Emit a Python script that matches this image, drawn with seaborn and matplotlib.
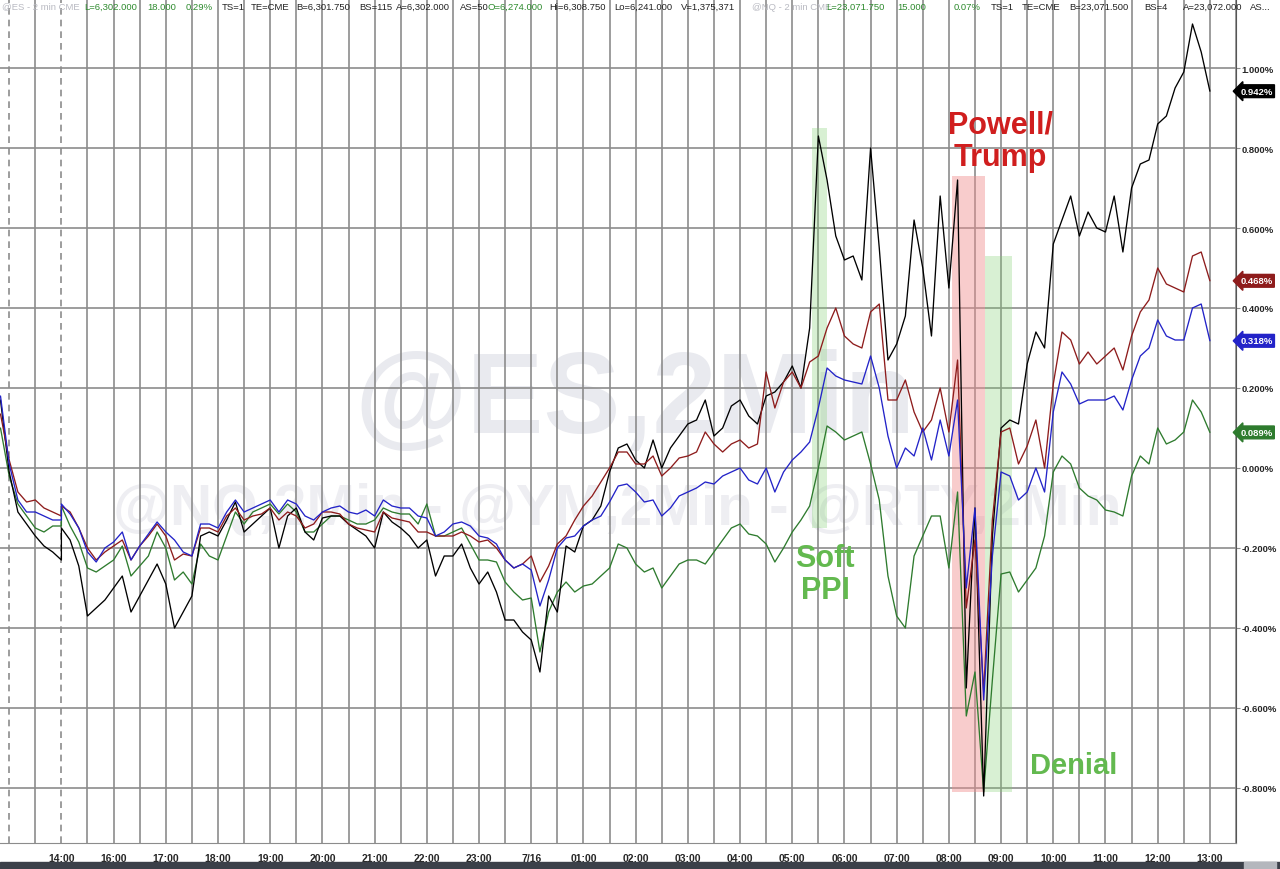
import numpy as np
import pandas as pd
import matplotlib
matplotlib.use("Agg")
import matplotlib.pyplot as plt
import seaborn as sns

# ---- data: % change, 10-minute samples ----
# previous session tail (12:50 .. 14:00), then new session 15:00 (7/15) .. 13:00 (7/16)
pre_times = pd.date_range("2025-07-15 12:50", "2025-07-15 14:00", freq="10min")
post_times = pd.date_range("2025-07-15 15:00", "2025-07-16 13:00", freq="10min")
close = pd.Timestamp("2025-07-15 14:00")
reopen = pd.Timestamp("2025-07-15 15:00")

nq = [0.17, -0.01, -0.11, -0.14, -0.17, -0.195, -0.21, -0.23,
      -0.15, -0.18, -0.245, -0.37, -0.35, -0.33,       # 15
      -0.30, -0.27, -0.36, -0.32, -0.28, -0.24,        # 16
      -0.29, -0.40, -0.36, -0.32, -0.17, -0.16,        # 17
      -0.17, -0.13, -0.085, -0.16, -0.14, -0.12,       # 18
      -0.10, -0.20, -0.12, -0.10, -0.16, -0.18,        # 19
      -0.125, -0.12, -0.12, -0.14, -0.155, -0.17,      # 20
      -0.20, -0.11, -0.135, -0.15, -0.17, -0.20,       # 21
      -0.18, -0.27, -0.22, -0.22, -0.19, -0.25,        # 22
      -0.29, -0.26, -0.31, -0.38, -0.38, -0.41,        # 23
      -0.43, -0.51, -0.32, -0.36, -0.195, -0.21,       # 00
      -0.145, -0.13, -0.095, -0.01, 0.05, 0.06,        # 01
      0.02, 0.0, 0.07, 0.0, 0.05, 0.08,                # 02
      0.11, 0.12, 0.17, 0.08, 0.10, 0.155,             # 03
      0.17, 0.13, 0.11, 0.18, 0.19, 0.215,             # 04
      0.255, 0.20, 0.35, 0.83, 0.72, 0.58,             # 05
      0.52, 0.53, 0.47, 0.80, 0.55, 0.27,              # 06
      0.31, 0.38, 0.62, 0.50, 0.33, 0.68,              # 07
      0.45, 0.72, -0.55, -0.10, -0.82, -0.17,          # 08
      0.10, 0.12, 0.11, 0.26, 0.34, 0.30,              # 09
      0.56, 0.62, 0.68, 0.58, 0.64, 0.60,              # 10
      0.59, 0.68, 0.54, 0.70, 0.76, 0.77,              # 11
      0.86, 0.88, 0.95, 0.99, 1.11, 1.04,              # 12
      0.942]

es = [0.135, 0.02, -0.06, -0.085, -0.08, -0.10, -0.11, -0.12,
      -0.095, -0.11, -0.15, -0.20, -0.23, -0.21,
      -0.195, -0.18, -0.23, -0.195, -0.17, -0.14,
      -0.17, -0.23, -0.215, -0.22, -0.15, -0.15,
      -0.16, -0.12, -0.10, -0.13, -0.12, -0.115,
      -0.10, -0.13, -0.11, -0.12, -0.15, -0.14,
      -0.11, -0.11, -0.115, -0.14, -0.15, -0.155,
      -0.16, -0.11, -0.125, -0.13, -0.135, -0.16,
      -0.16, -0.17, -0.17, -0.17, -0.16, -0.17,
      -0.185, -0.18, -0.20, -0.23, -0.25, -0.24,
      -0.22, -0.285, -0.245, -0.19, -0.17, -0.13,
      -0.095, -0.07, -0.035, 0.0, 0.04, 0.04,
      0.01, 0.01, 0.03, -0.02, 0.0, 0.025,
      0.03, 0.04, 0.09, 0.06, 0.04, 0.06,
      0.07, 0.05, 0.06, 0.24, 0.15, 0.215,
      0.24, 0.20, 0.265, 0.28, 0.35, 0.40,
      0.33, 0.31, 0.30, 0.39, 0.41, 0.17,
      0.17, 0.22, 0.14, 0.09, 0.12, 0.20,
      0.09, 0.27, -0.35, -0.18, -0.56, -0.13,
      0.09, 0.10, 0.01, 0.055, 0.12, 0.0,
      0.21, 0.34, 0.32, 0.26, 0.29, 0.26,
      0.28, 0.30, 0.245, 0.33, 0.39, 0.42,
      0.50, 0.46, 0.45, 0.44, 0.53, 0.54,
      0.468]

ym = [0.18, 0.01, -0.08, -0.11, -0.11, -0.12, -0.13, -0.13,
      -0.09, -0.115, -0.15, -0.21, -0.235, -0.20,
      -0.185, -0.16, -0.23, -0.195, -0.165, -0.135,
      -0.16, -0.18, -0.21, -0.22, -0.14, -0.14,
      -0.15, -0.11, -0.08, -0.11, -0.10, -0.09,
      -0.08, -0.11, -0.08, -0.09, -0.12, -0.13,
      -0.11, -0.10, -0.095, -0.11, -0.115, -0.105,
      -0.12, -0.08, -0.095, -0.10, -0.10, -0.12,
      -0.125, -0.17, -0.16, -0.14, -0.135, -0.145,
      -0.17, -0.175, -0.19, -0.23, -0.25, -0.24,
      -0.255, -0.345, -0.28, -0.20, -0.175, -0.17,
      -0.145, -0.13, -0.12, -0.085, -0.045, -0.04,
      -0.06, -0.085, -0.08, -0.12, -0.10, -0.07,
      -0.06, -0.05, -0.035, -0.04, -0.02, -0.01,
      0.0, -0.03, -0.04, 0.0, -0.06, -0.01,
      0.02, 0.04, 0.065, 0.15, 0.25, 0.23,
      0.22, 0.215, 0.21, 0.28, 0.20, 0.08,
      0.0, 0.05, 0.03, 0.10, 0.02, 0.12,
      0.03, 0.17, -0.30, -0.10, -0.58, -0.22,
      -0.01, -0.02, -0.08, -0.06, 0.0, -0.06,
      0.14, 0.24, 0.21, 0.16, 0.17, 0.17,
      0.17, 0.18, 0.145, 0.22, 0.28, 0.30,
      0.37, 0.33, 0.32, 0.32, 0.40, 0.41,
      0.318]

rty = [0.10, -0.02, -0.09, -0.12, -0.15, -0.16, -0.145, -0.145,
       -0.095, -0.145, -0.185, -0.25, -0.26, -0.245,
       -0.23, -0.195, -0.27, -0.245, -0.22, -0.16,
       -0.20, -0.28, -0.26, -0.29, -0.19, -0.22,
       -0.23, -0.17, -0.11, -0.14, -0.11, -0.10,
       -0.09, -0.115, -0.09, -0.11, -0.16, -0.16,
       -0.14, -0.12, -0.12, -0.13, -0.14, -0.14,
       -0.13, -0.10, -0.11, -0.115, -0.115, -0.14,
       -0.09, -0.17, -0.17, -0.16, -0.15, -0.19,
       -0.23, -0.23, -0.235, -0.285, -0.31, -0.33,
       -0.325, -0.46, -0.36, -0.31, -0.285, -0.31,
       -0.295, -0.29, -0.27, -0.25, -0.19, -0.20,
       -0.24, -0.26, -0.25, -0.30, -0.27, -0.24,
       -0.23, -0.23, -0.24, -0.21, -0.18, -0.15,
       -0.14, -0.165, -0.17, -0.19, -0.235, -0.20,
       -0.16, -0.13, -0.095, 0.0, 0.105, 0.09,
       0.07, 0.08, 0.09, 0.01, -0.08, -0.27,
       -0.37, -0.40, -0.22, -0.17, -0.12, -0.12,
       -0.25, -0.06, -0.62, -0.51, -0.81, -0.53,
       -0.265, -0.26, -0.31, -0.28, -0.25, -0.17,
       -0.01, 0.03, 0.01, -0.05, -0.07, -0.08,
       -0.105, -0.11, -0.12, -0.02, 0.03, 0.01,
       0.10, 0.06, 0.07, 0.09, 0.17, 0.14,
       0.089]

series = {"RTY": rty, "NQ": nq, "ES": es, "YM": ym}
palette = {"NQ": "#000000", "ES": "#8e1c1c", "YM": "#2323c8", "RTY": "#2e7b2e"}

tick_labels = ["14:00", "16:00", "17:00", "18:00", "19:00", "20:00", "21:00", "22:00",
               "23:00", "7/16", "01:00", "02:00", "03:00", "04:00", "05:00", "06:00",
               "07:00", "08:00", "09:00", "10:00", "11:00", "12:00", "13:00"]
y_ticks = [-0.8, -0.6, -0.4, -0.2, 0.0, 0.2, 0.4, 0.6, 0.8, 1.0]


def to_pos(ts):
    # hours on the chart clock, with the 14:00-15:00 break squeezed out
    ts = pd.Timestamp(ts)
    if ts <= close:
        return (ts - close) / pd.Timedelta(hours=1)
    return (ts - reopen) / pd.Timedelta(hours=1)


pos = [to_pos(t) for t in pre_times] + [to_pos(t) for t in post_times]
rows = []
for sym, vals in series.items():
    assert len(vals) == len(pos), (sym, len(vals), len(pos))
    rows.append(pd.DataFrame({"pos": pos, "pct": vals, "symbol": sym}))
df = pd.concat(rows, ignore_index=True)

sns.set_style("white")
plt.rcParams["font.family"] = ["Liberation Sans", "DejaVu Sans"]

W, H = 1280, 870
fig = plt.figure(figsize=(12.8, 8.7), dpi=100)
ax = fig.add_axes([0, 1 - 844 / H, 1236 / W, 844 / H])
ax.set_xlim(-1.176, 22.28)
ax.set_ylim(-0.9375, 1.1725)

grid_c = "#8c8c8c"
# watermarks
ax.text(0.514, 0.487, "@ES,2Min", transform=ax.transAxes, ha="center", va="baseline",
        fontsize=83, weight="bold", color="#e9eaef", zorder=0.2)
ax.text(0.499, 0.378, "@NQ,2Min - @YM,2Min - @RTY,2Min", transform=ax.transAxes,
        ha="center", va="baseline", fontsize=42, weight="bold", color="#eeeef2", zorder=0.2)

# vertical half-hour grid; session breaks dashed
for x in np.arange(-1, 22.6, 0.5):
    ls = (0, (4, 3)) if x in (-1.0, 0.0) else "-"
    ax.axvline(x, color=grid_c, lw=1.2, ls=ls, zorder=0.5)
ax.set_yticks(y_ticks)
ax.yaxis.grid(True, color=grid_c, lw=1.2)
ax.set_axisbelow(True)

# highlighted windows
bands = [("2025-07-16 05:23", "2025-07-16 05:40", -0.15, 0.85, "#7fcf70", 0.3),
         ("2025-07-16 08:04", "2025-07-16 08:41", -0.81, 0.73, "#f08e8e", 0.45),
         ("2025-07-16 08:41", "2025-07-16 09:12", -0.81, 0.53, "#7fcf70", 0.3)]
for t0, t1, y0, y1, c, a in bands:
    ax.fill_between([to_pos(t0), to_pos(t1)], y0, y1, color=c, alpha=a, lw=0, zorder=1)

sns.lineplot(data=df, x="pos", y="pct", hue="symbol", palette=palette,
             hue_order=["RTY", "NQ", "ES", "YM"], estimator=None, sort=False,
             lw=0.95, legend=False, ax=ax, zorder=3)

ax.text(to_pos("2025-07-16 08:59"), 0.8175, "Powell/\nTrump", ha="center", va="center",
        fontsize=22, weight="bold", color="#d01e1e", linespacing=1.1, zorder=4)
ax.text(to_pos("2025-07-16 05:38"), -0.265, "Soft\nPPI", ha="center", va="center",
        fontsize=22, weight="bold", color="#63b94f", linespacing=1.1, zorder=4)
ax.text(to_pos("2025-07-16 09:33"), -0.7425, "Denial", ha="left", va="center",
        fontsize=21, weight="bold", color="#63b94f", zorder=4)

# axes cosmetics
ax.set_xticks(range(len(tick_labels)))
ax.set_xticklabels(tick_labels)
ax.set_xticks(np.arange(-1, 22.6, 0.5), minor=True)
ax.yaxis.tick_right()
ax.set_yticklabels([f"{v:.3f}%" for v in y_ticks])
ax.tick_params(axis="x", which="both", direction="out", length=5, color=grid_c,
               labelsize=7.5, pad=2)
ax.tick_params(axis="y", direction="out", length=3, color=grid_c, labelsize=6.8, pad=1)
for lab in ax.get_xticklabels() + ax.get_yticklabels():
    lab.set_fontweight("bold")
ax.set_xlabel("")
ax.set_ylabel("")
for side in ("left", "top"):
    ax.spines[side].set_visible(False)
ax.spines["right"].set_color("#555555")
ax.spines["bottom"].set_color(grid_c)

# last-value tags
for sym in ["NQ", "ES", "YM", "RTY"]:
    last = series[sym][-1]
    ax.annotate(f"{last:.3f}%", xy=(1.0, last), xycoords=("axes fraction", "data"),
                xytext=(3, 0), textcoords="offset points", ha="left", va="center",
                color="white", fontsize=6.8, weight="bold", annotation_clip=False,
                bbox=dict(boxstyle="larrow,pad=0.2", fc=palette[sym], ec=palette[sym]))

# quote header
header = [(2, "@ES - 2 min CME", "#b9bac2"), (84, "L=6,302.000", "#2e8b2e"),
          (147, "18.000", "#2e8b2e"), (186, "0.29%", "#2e8b2e"), (222, "TS=1", "#222222"),
          (251, "TE=CME", "#222222"), (296, "B=6,301.750", "#222222"),
          (359, "BS=115", "#222222"), (396, "A=6,302.000", "#222222"),
          (460, "AS=50", "#222222"), (488, "O=6,274.000", "#2e8b2e"),
          (549, "Hi=6,308.750", "#222222"), (614, "Lo=6,241.000", "#222222"),
          (681, "V=1,375,371", "#222222"), (752, "@NQ - 2 min CME", "#b9bac2"),
          (826, "L=23,071.750", "#2e8b2e"), (897, "15.000", "#2e8b2e"),
          (954, "0.07%", "#2e8b2e"), (991, "TS=1", "#222222"), (1022, "TE=CME", "#222222"),
          (1069, "B=23,071.500", "#222222"), (1144, "BS=4", "#222222"),
          (1183, "A=23,072.000", "#222222"), (1250, "AS...", "#222222")]
for x, s, c in header:
    fig.text(x / W, 1 - 7 / H, s, ha="left", va="center", fontsize=6.8, color=c)

# bottom status bar
fig.patches.append(plt.Rectangle((0, 0), 1, 7 / H, transform=fig.transFigure,
                                 color="#3b4049", zorder=0))
fig.patches.append(plt.Rectangle((1244 / W, 0), 32 / W, 7 / H, transform=fig.transFigure,
                                 color="#b4b7bd", zorder=1))

fig.savefig("out.png", dpi=100)
